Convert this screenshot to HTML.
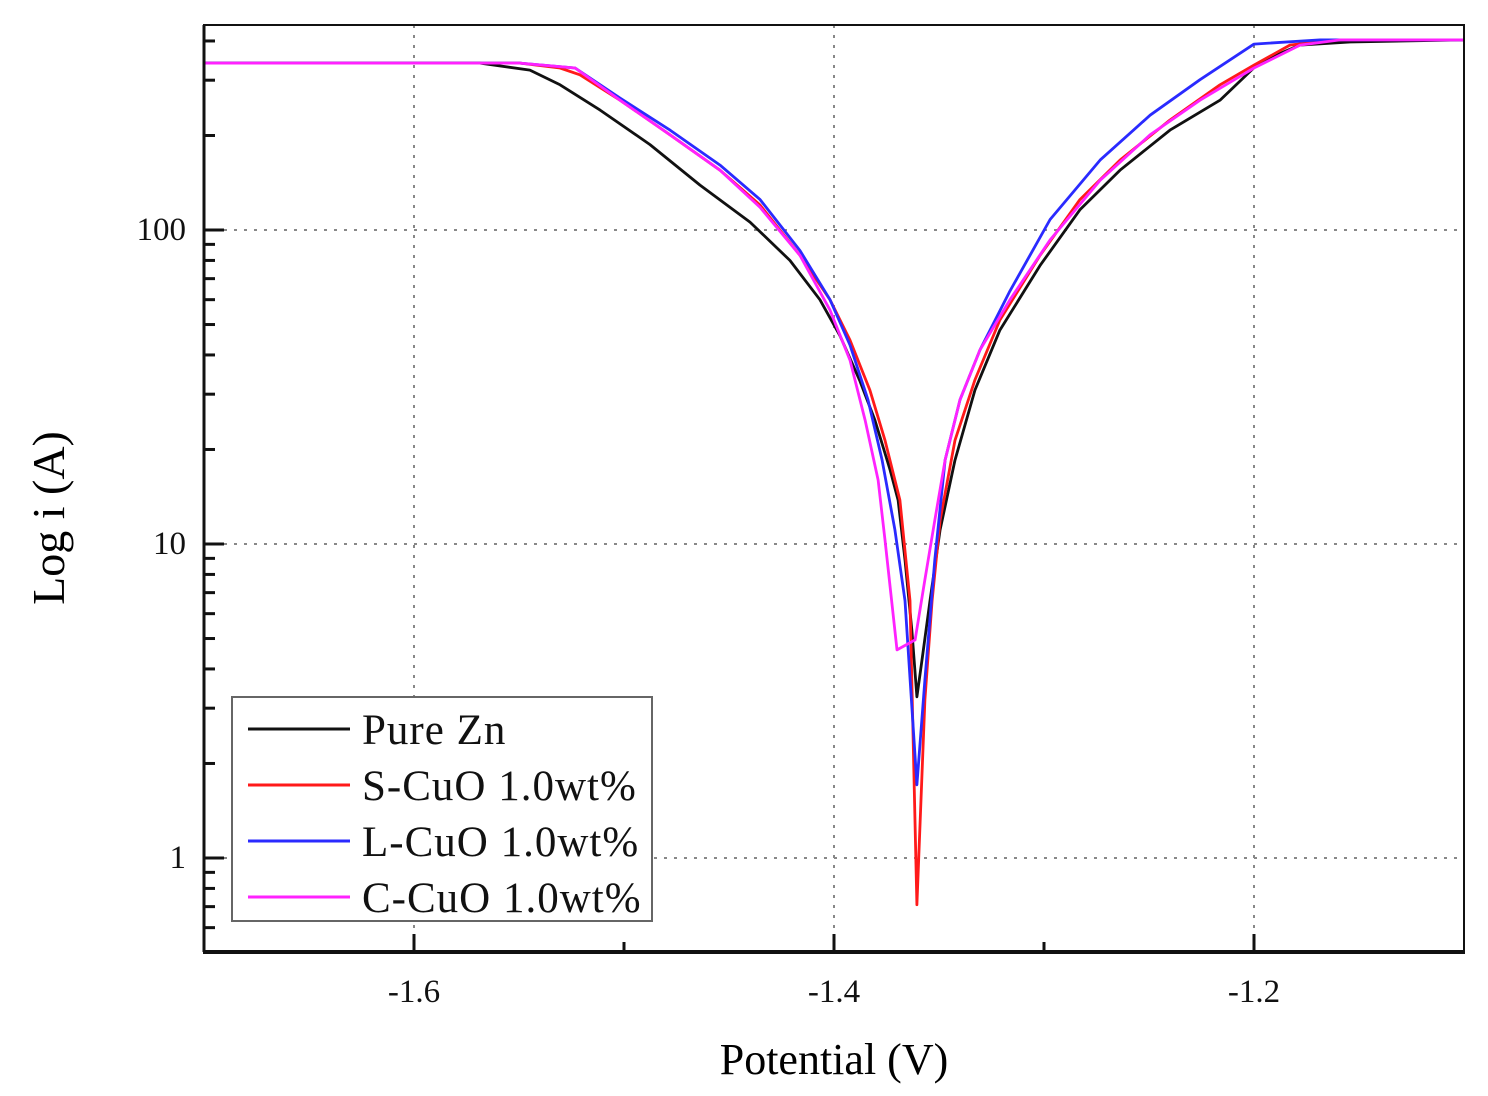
<!DOCTYPE html>
<html><head><meta charset="utf-8">
<style>
html,body{margin:0;padding:0;background:#fff;}
svg{display:block;font-family:"Liberation Serif",serif;}
</style></head>
<body>
<svg id="chart" width="1488" height="1096" viewBox="0 0 1488 1096">
<g id="grid"></g>
<g id="series"></g>
<g id="axes"></g>
<g id="legend"></g>
<text x="834" y="1074" font-size="44" text-anchor="middle">Potential (V)</text>
<text transform="translate(64,518) rotate(-90)" font-size="46" text-anchor="middle">Log i (A)</text>
</svg>
<script>
const xTicks = [-1.6, -1.4, -1.2];
const xTickLabels = ["-1.6", "-1.4", "-1.2"];
const xMinorTicks = [-1.5, -1.3];
const yTicks = [1, 10, 100];
const yTickLabels = ["1", "10", "100"];
const seriesNames = ["Pure Zn", "S-CuO 1.0wt%", "L-CuO 1.0wt%", "C-CuO 1.0wt%"];
const seriesColors = ["#111111", "#ff1a1a", "#2a2aff", "#ff22ff"];

const pureZnE = [-1.7,-1.5686,-1.5448,-1.5305,-1.5114,-1.4876,-1.4638,-1.44,-1.421,-1.4067,-1.3971,-1.3876,-1.3805,-1.3733,-1.3695,-1.3662,-1.3629,-1.3605,-1.3581,-1.3543,-1.3495,-1.3424,-1.3329,-1.321,-1.3019,-1.2829,-1.2638,-1.24,-1.2162,-1.1971,-1.1781,-1.1543,-1.1];
const pureZnI = [340,340,323,290,241,187,139,106,80,60,46,33,24.8,17.2,13.8,8.9,5.3,3.26,4.27,6.6,11.1,18.5,30.9,48,77,116,155,208,259,343,388,397,403];

const sCuoE = [-1.7,-1.5495,-1.5305,-1.521,-1.5019,-1.4781,-1.4543,-1.4352,-1.4162,-1.4019,-1.3924,-1.3829,-1.3757,-1.3686,-1.3638,-1.3605,-1.3567,-1.3533,-1.3495,-1.3424,-1.3329,-1.321,-1.3019,-1.2829,-1.2638,-1.24,-1.2162,-1.2,-1.1829,-1.1638,-1.1];
const sCuoI = [340,340,328,312,259,201,155,120,83,60,44.6,30.9,21.4,13.8,6.6,0.71,3.19,6.6,11.9,21.4,33.3,51.7,83,125,167,224,290,335,388,403,403];

const lCuoE = [-1.7,-1.5495,-1.5233,-1.5019,-1.4781,-1.4543,-1.4352,-1.4162,-1.4019,-1.3924,-1.3838,-1.3771,-1.371,-1.3662,-1.3605,-1.3567,-1.352,-1.3471,-1.34,-1.3305,-1.3162,-1.2971,-1.2733,-1.2495,-1.2257,-1.2,-1.1686,-1.1];
const lCuoI = [340,340,328,263,208,161,125,86,60,43,28.8,18.5,11.1,6.6,1.71,3.69,8.9,18.5,28.8,41.5,64,108,167,232,301,391,403,403];

const cCuoE = [-1.7,-1.5495,-1.5233,-1.5019,-1.4781,-1.4543,-1.4352,-1.4162,-1.4019,-1.3924,-1.3852,-1.379,-1.3757,-1.37,-1.3614,-1.3567,-1.352,-1.3471,-1.34,-1.3305,-1.3162,-1.2971,-1.2733,-1.2495,-1.2257,-1.2,-1.1781,-1.159,-1.1];
const cCuoI = [340,340,328,259,201,155,118,83,55.6,38.5,24.8,16,10.3,4.6,4.95,7.7,11.9,18.5,28.8,41.5,60,93,144,201,259,328,388,403,403];

const NS = "http://www.w3.org/2000/svg";
const L = 204, R = 1464, T = 25, B = 952;
const xMin = -1.7, xMax = -1.1;
const yMinLog = -0.2994, yMaxLog = 2.6529;
function xs(v){ return L + (v - xMin) / (xMax - xMin) * (R - L); }
function ys(v){ return B - (Math.log10(v) - yMinLog) / (yMaxLog - yMinLog) * (B - T); }
function mk(tag, attrs, parent){ const e = document.createElementNS(NS, tag); for (const k in attrs) e.setAttribute(k, attrs[k]); parent.appendChild(e); return e; }

const grid = document.getElementById('grid');
const axes = document.getElementById('axes');
const seriesG = document.getElementById('series');
const legend = document.getElementById('legend');

xTicks.forEach((v,i)=>{
  const x = xs(v);
  const g = mk('line',{x1:x,x2:x,y1:T,y2:B,stroke:'#888','stroke-width':2,'stroke-dasharray':'3 7'},grid);
  
  
  const t = mk('line',{x1:x,x2:x,y1:B,y2:B-18,stroke:'#111','stroke-width':3},axes);
  
  
  const lb = mk('text',{x:x,y:B+50,'font-size':33,'text-anchor':'middle',fill:'#111'},axes);
  lb.textContent = xTickLabels[i];
  
  
});
xMinorTicks.forEach(v=>{
  const x = xs(v);
  const t = mk('line',{x1:x,x2:x,y1:B,y2:B-10,stroke:'#111','stroke-width':3},axes);
  
  
});
yTicks.forEach((v,i)=>{
  const y = ys(v);
  const g = mk('line',{x1:L,x2:R,y1:y,y2:y,stroke:'#888','stroke-width':2,'stroke-dasharray':'3 7'},grid);
  
  
  const t = mk('line',{x1:L,x2:L+20,y1:y,y2:y,stroke:'#111','stroke-width':3},axes);
  
  
  const lb = mk('text',{x:L-18,y:y+10,'font-size':33,'text-anchor':'end',fill:'#111'},axes);
  lb.textContent = yTickLabels[i];
  
  
});
[0.1,1,10,100].forEach(dec=>{
  for(let m=2;m<=9;m++){
    const v = dec*m;
    const y = ys(v);
    if (y < T+2 || y > B-2) continue;
    const t = mk('line',{x1:L,x2:L+11,y1:y,y2:y,stroke:'#111','stroke-width':3},axes);
    
    
  }
});
const frame = mk('rect',{x:L,y:T,width:R-L,height:B-T,fill:'none',stroke:'#111','stroke-width':2},axes);


const xAxis = mk('line',{x1:L-1,x2:R+1,y1:B,y2:B,stroke:'#111','stroke-width':4},axes);


const yAxis = mk('line',{x1:L,x2:L,y1:T,y2:B,stroke:'#111','stroke-width':3},axes);



const allE = [pureZnE, sCuoE, lCuoE, cCuoE];
const allI = [pureZnI, sCuoI, lCuoI, cCuoI];
[0,1,2,3].forEach(s=>{
  const pts = allE[s].map((e,i)=> xs(e).toFixed(1)+','+ys(allI[s][i]).toFixed(1)).join(' ');
  const pl = mk('polyline',{points:pts,fill:'none',stroke:seriesColors[s],'stroke-width':2.8,'stroke-linejoin':'round'},seriesG);
  
  
});

const box = mk('rect',{x:232,y:697,width:420,height:224,fill:'#fff',stroke:'#666','stroke-width':2},legend);


seriesNames.forEach((n,i)=>{
  const y = 729 + i*56;
  const ln = mk('line',{x1:248,x2:350,y1:y,y2:y,stroke:seriesColors[i],'stroke-width':3},legend);
  
  
  const t = mk('text',{x:362,y:y+15,'font-size':43,'letter-spacing':1,fill:'#111'},legend);
  t.textContent = n;
  
  
});
</script>
</body></html>
